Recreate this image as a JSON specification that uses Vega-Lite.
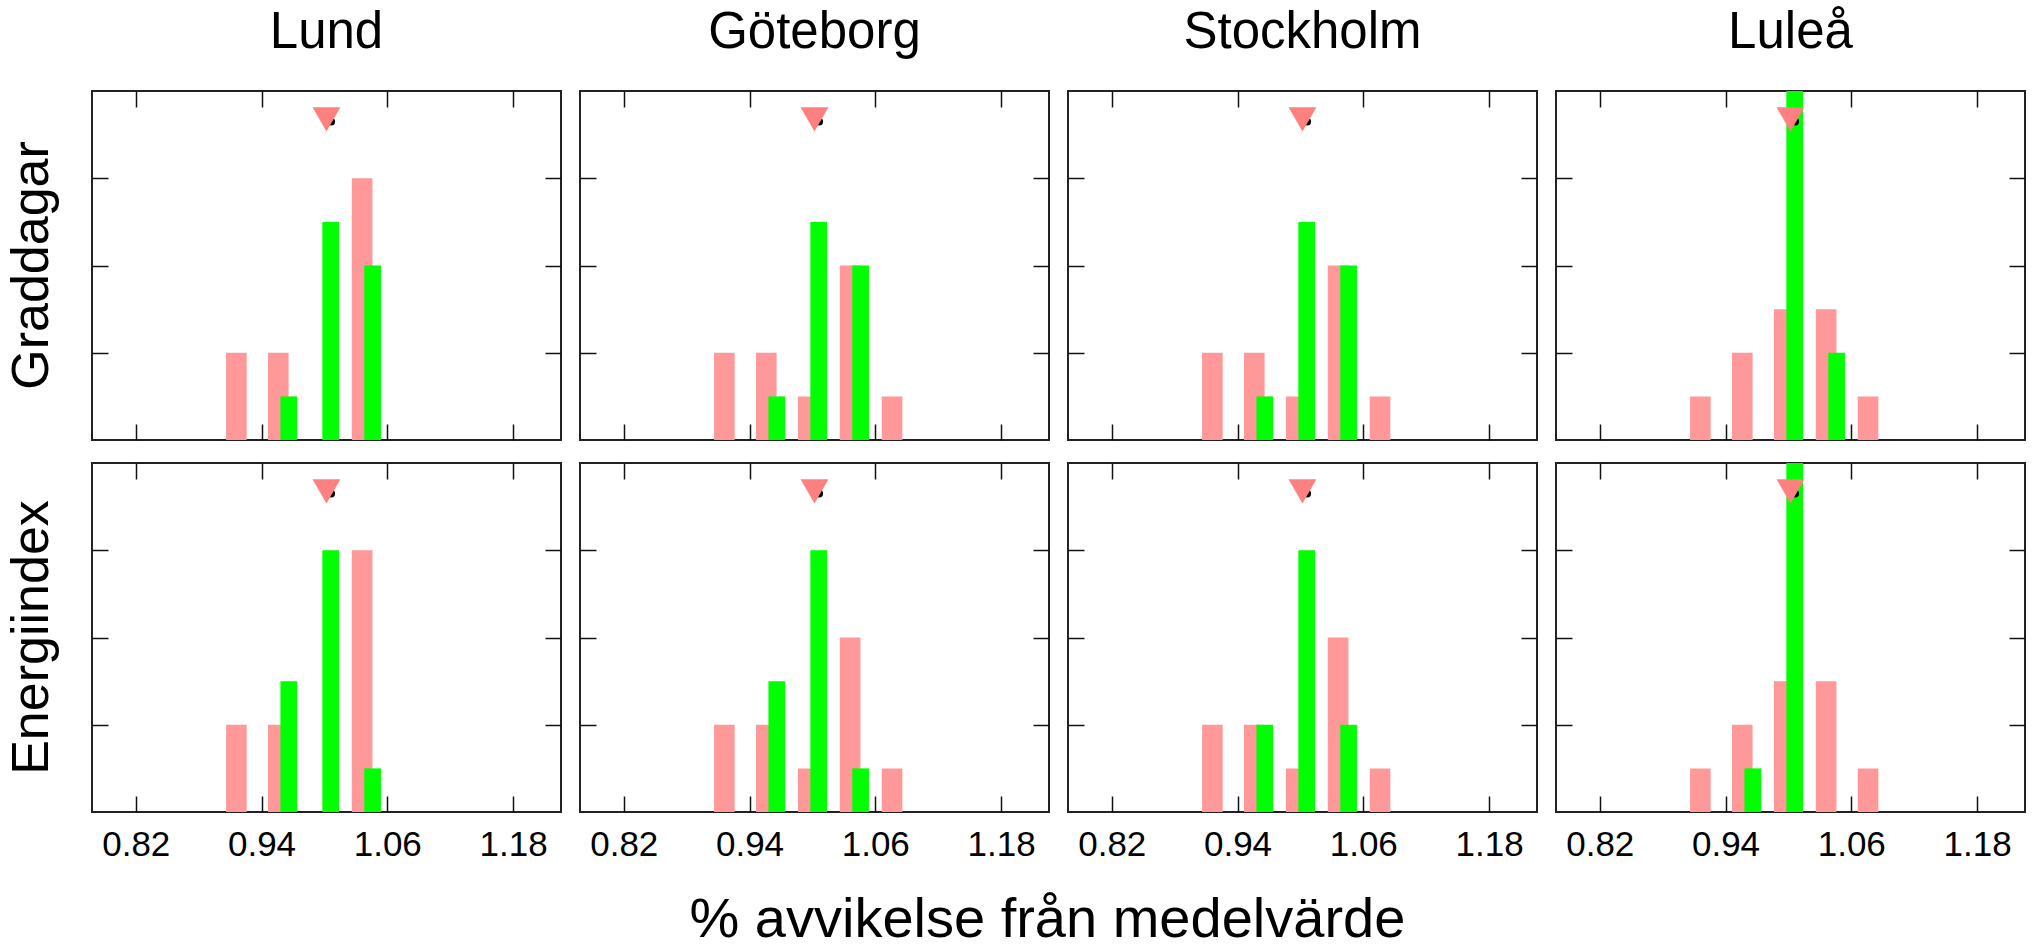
{
  "$schema": "https://vega.github.io/schema/vega-lite/v6.json",
  "background": "white",
  "padding": {"left": 5, "top": 7, "right": 5, "bottom": 2},
  "config": {
    "font": "Liberation Sans",
    "view": {"stroke": "#222222", "strokeWidth": 2},
    "axis": {"domain": false, "grid": false, "ticks": true, "tickSize": -16, "tickColor": "#111111", "tickWidth": 1.5, "labelFont": "Liberation Sans", "labelFontSize": 35, "labelColor": "#000000", "labelPadding": 31, "minExtent": 0},
    "header": {"labelFont": "Liberation Sans", "labelColor": "#000000"}
  },
  "title": {"text": "% avvikelse från medelvärde", "orient": "bottom", "anchor": "middle", "fontSize": 56, "fontWeight": "normal", "font": "Liberation Sans", "color": "#000000", "offset": 30, "dx": 31},
  "data": {"values": [
    {"stad": "Lund", "matt": "Graddagar", "typ": "A", "v": 0.916, "n": 2},
    {"stad": "Lund", "matt": "Graddagar", "typ": "A", "v": 0.956, "n": 2},
    {"stad": "Lund", "matt": "Graddagar", "typ": "A", "v": 1.036, "n": 6},
    {"stad": "Lund", "matt": "Graddagar", "typ": "B", "v": 0.966, "n": 1},
    {"stad": "Lund", "matt": "Graddagar", "typ": "B", "v": 1.006, "n": 5},
    {"stad": "Lund", "matt": "Graddagar", "typ": "B", "v": 1.046, "n": 4},
    {"stad": "Lund", "matt": "Graddagar", "typ": "punkt", "v": 1.0065, "n": 7.3},
    {"stad": "Lund", "matt": "Graddagar", "typ": "medel", "v": 1.002, "n": 7.35},

    {"stad": "Göteborg", "matt": "Graddagar", "typ": "A", "v": 0.916, "n": 2},
    {"stad": "Göteborg", "matt": "Graddagar", "typ": "A", "v": 0.956, "n": 2},
    {"stad": "Göteborg", "matt": "Graddagar", "typ": "A", "v": 0.996, "n": 1},
    {"stad": "Göteborg", "matt": "Graddagar", "typ": "A", "v": 1.036, "n": 4},
    {"stad": "Göteborg", "matt": "Graddagar", "typ": "A", "v": 1.076, "n": 1},
    {"stad": "Göteborg", "matt": "Graddagar", "typ": "B", "v": 0.966, "n": 1},
    {"stad": "Göteborg", "matt": "Graddagar", "typ": "B", "v": 1.006, "n": 5},
    {"stad": "Göteborg", "matt": "Graddagar", "typ": "B", "v": 1.046, "n": 4},
    {"stad": "Göteborg", "matt": "Graddagar", "typ": "punkt", "v": 1.0065, "n": 7.3},
    {"stad": "Göteborg", "matt": "Graddagar", "typ": "medel", "v": 1.002, "n": 7.35},

    {"stad": "Stockholm", "matt": "Graddagar", "typ": "A", "v": 0.916, "n": 2},
    {"stad": "Stockholm", "matt": "Graddagar", "typ": "A", "v": 0.956, "n": 2},
    {"stad": "Stockholm", "matt": "Graddagar", "typ": "A", "v": 0.996, "n": 1},
    {"stad": "Stockholm", "matt": "Graddagar", "typ": "A", "v": 1.036, "n": 4},
    {"stad": "Stockholm", "matt": "Graddagar", "typ": "A", "v": 1.076, "n": 1},
    {"stad": "Stockholm", "matt": "Graddagar", "typ": "B", "v": 0.966, "n": 1},
    {"stad": "Stockholm", "matt": "Graddagar", "typ": "B", "v": 1.006, "n": 5},
    {"stad": "Stockholm", "matt": "Graddagar", "typ": "B", "v": 1.046, "n": 4},
    {"stad": "Stockholm", "matt": "Graddagar", "typ": "punkt", "v": 1.0065, "n": 7.3},
    {"stad": "Stockholm", "matt": "Graddagar", "typ": "medel", "v": 1.002, "n": 7.35},

    {"stad": "Luleå", "matt": "Graddagar", "typ": "A", "v": 0.916, "n": 1},
    {"stad": "Luleå", "matt": "Graddagar", "typ": "A", "v": 0.956, "n": 2},
    {"stad": "Luleå", "matt": "Graddagar", "typ": "A", "v": 0.996, "n": 3},
    {"stad": "Luleå", "matt": "Graddagar", "typ": "A", "v": 1.036, "n": 3},
    {"stad": "Luleå", "matt": "Graddagar", "typ": "A", "v": 1.076, "n": 1},
    {"stad": "Luleå", "matt": "Graddagar", "typ": "B", "v": 1.006, "n": 8},
    {"stad": "Luleå", "matt": "Graddagar", "typ": "B", "v": 1.046, "n": 2},
    {"stad": "Luleå", "matt": "Graddagar", "typ": "punkt", "v": 1.0065, "n": 7.3},
    {"stad": "Luleå", "matt": "Graddagar", "typ": "medel", "v": 1.002, "n": 7.35},

    {"stad": "Lund", "matt": "Energiindex", "typ": "A", "v": 0.916, "n": 2},
    {"stad": "Lund", "matt": "Energiindex", "typ": "A", "v": 0.956, "n": 2},
    {"stad": "Lund", "matt": "Energiindex", "typ": "A", "v": 1.036, "n": 6},
    {"stad": "Lund", "matt": "Energiindex", "typ": "B", "v": 0.966, "n": 3},
    {"stad": "Lund", "matt": "Energiindex", "typ": "B", "v": 1.006, "n": 6},
    {"stad": "Lund", "matt": "Energiindex", "typ": "B", "v": 1.046, "n": 1},
    {"stad": "Lund", "matt": "Energiindex", "typ": "punkt", "v": 1.0065, "n": 7.3},
    {"stad": "Lund", "matt": "Energiindex", "typ": "medel", "v": 1.002, "n": 7.35},

    {"stad": "Göteborg", "matt": "Energiindex", "typ": "A", "v": 0.916, "n": 2},
    {"stad": "Göteborg", "matt": "Energiindex", "typ": "A", "v": 0.956, "n": 2},
    {"stad": "Göteborg", "matt": "Energiindex", "typ": "A", "v": 0.996, "n": 1},
    {"stad": "Göteborg", "matt": "Energiindex", "typ": "A", "v": 1.036, "n": 4},
    {"stad": "Göteborg", "matt": "Energiindex", "typ": "A", "v": 1.076, "n": 1},
    {"stad": "Göteborg", "matt": "Energiindex", "typ": "B", "v": 0.966, "n": 3},
    {"stad": "Göteborg", "matt": "Energiindex", "typ": "B", "v": 1.006, "n": 6},
    {"stad": "Göteborg", "matt": "Energiindex", "typ": "B", "v": 1.046, "n": 1},
    {"stad": "Göteborg", "matt": "Energiindex", "typ": "punkt", "v": 1.0065, "n": 7.3},
    {"stad": "Göteborg", "matt": "Energiindex", "typ": "medel", "v": 1.002, "n": 7.35},

    {"stad": "Stockholm", "matt": "Energiindex", "typ": "A", "v": 0.916, "n": 2},
    {"stad": "Stockholm", "matt": "Energiindex", "typ": "A", "v": 0.956, "n": 2},
    {"stad": "Stockholm", "matt": "Energiindex", "typ": "A", "v": 0.996, "n": 1},
    {"stad": "Stockholm", "matt": "Energiindex", "typ": "A", "v": 1.036, "n": 4},
    {"stad": "Stockholm", "matt": "Energiindex", "typ": "A", "v": 1.076, "n": 1},
    {"stad": "Stockholm", "matt": "Energiindex", "typ": "B", "v": 0.966, "n": 2},
    {"stad": "Stockholm", "matt": "Energiindex", "typ": "B", "v": 1.006, "n": 6},
    {"stad": "Stockholm", "matt": "Energiindex", "typ": "B", "v": 1.046, "n": 2},
    {"stad": "Stockholm", "matt": "Energiindex", "typ": "punkt", "v": 1.0065, "n": 7.3},
    {"stad": "Stockholm", "matt": "Energiindex", "typ": "medel", "v": 1.002, "n": 7.35},

    {"stad": "Luleå", "matt": "Energiindex", "typ": "A", "v": 0.916, "n": 1},
    {"stad": "Luleå", "matt": "Energiindex", "typ": "A", "v": 0.956, "n": 2},
    {"stad": "Luleå", "matt": "Energiindex", "typ": "A", "v": 0.996, "n": 3},
    {"stad": "Luleå", "matt": "Energiindex", "typ": "A", "v": 1.036, "n": 3},
    {"stad": "Luleå", "matt": "Energiindex", "typ": "A", "v": 1.076, "n": 1},
    {"stad": "Luleå", "matt": "Energiindex", "typ": "B", "v": 0.966, "n": 1},
    {"stad": "Luleå", "matt": "Energiindex", "typ": "B", "v": 1.006, "n": 9},
    {"stad": "Luleå", "matt": "Energiindex", "typ": "punkt", "v": 1.0065, "n": 7.3},
    {"stad": "Luleå", "matt": "Energiindex", "typ": "medel", "v": 1.002, "n": 7.35}
  ]},
  "spacing": 19,
  "vconcat": [
    {
      "transform": [{"filter": "datum.matt === 'Graddagar'"}],
      "facet": {
        "row": {"field": "matt", "type": "nominal", "header": {"title": null, "labelAngle": -90, "labelOrient": "left", "labelFontSize": 52, "labelPadding": 6}},
        "column": {"field": "stad", "type": "nominal", "sort": ["Lund", "Göteborg", "Stockholm", "Luleå"], "header": {"title": null, "labelFontSize": 51, "labelPadding": 30}}
      },
      "spacing": {"column": 15, "row": 0},
      "resolve": {"axis": {"x": "independent", "y": "independent"}},
      "spec": {
        "width": 469,
        "height": 349,
        "layer": [
          {
            "transform": [{"filter": "datum.typ === 'A'"}],
            "mark": {"type": "bar", "size": 20.6, "color": "#FF9999", "clip": true},
            "encoding": {
              "x": {"field": "v", "type": "quantitative", "scale": {"domain": [0.783, 1.221], "nice": false, "zero": false}, "axis": {"orient": "bottom", "values": [0.82, 0.94, 1.06, 1.18], "format": ".2f", "labels": false, "title": null}},
              "y": {"field": "n", "type": "quantitative", "scale": {"domain": [0, 8], "nice": false}, "axis": {"orient": "left", "values": [2, 4, 6], "labels": false, "title": null}}
            }
          },
          {
            "transform": [{"filter": "datum.typ === 'B'"}],
            "mark": {"type": "bar", "size": 16.7, "color": "#00FF00", "clip": true},
            "encoding": {
              "x": {"field": "v", "type": "quantitative", "axis": {"orient": "top", "values": [0.82, 0.94, 1.06, 1.18], "labels": false, "title": null}},
              "y": {"field": "n", "type": "quantitative", "axis": {"orient": "right", "values": [2, 4, 6], "labels": false, "title": null}}
            }
          },
          {
            "transform": [{"filter": "datum.typ === 'punkt'"}],
            "mark": {"type": "point", "shape": "circle", "filled": true, "color": "#000000", "opacity": 1, "size": 60},
            "encoding": {
              "x": {"field": "v", "type": "quantitative", "axis": null},
              "y": {"field": "n", "type": "quantitative", "axis": null}
            }
          },
          {
            "transform": [{"filter": "datum.typ === 'medel'"}],
            "mark": {"type": "point", "shape": "triangle-down", "filled": true, "color": "#FF8080", "opacity": 1, "size": 780},
            "encoding": {
              "x": {"field": "v", "type": "quantitative", "axis": null},
              "y": {"field": "n", "type": "quantitative", "axis": null}
            }
          }
        ]
      }
    },
    {
      "transform": [{"filter": "datum.matt === 'Energiindex'"}],
      "facet": {
        "row": {"field": "matt", "type": "nominal", "header": {"title": null, "labelAngle": -90, "labelOrient": "left", "labelFontSize": 52, "labelPadding": 6}},
        "column": {"field": "stad", "type": "nominal", "sort": ["Lund", "Göteborg", "Stockholm", "Luleå"], "header": {"title": null, "labels": false}}
      },
      "spacing": {"column": 15, "row": 0},
      "resolve": {"axis": {"x": "independent", "y": "independent"}},
      "spec": {
        "width": 469,
        "height": 349,
        "layer": [
          {
            "transform": [{"filter": "datum.typ === 'A'"}],
            "mark": {"type": "bar", "size": 20.6, "color": "#FF9999", "clip": true},
            "encoding": {
              "x": {"field": "v", "type": "quantitative", "scale": {"domain": [0.783, 1.221], "nice": false, "zero": false}, "axis": {"orient": "bottom", "values": [0.82, 0.94, 1.06, 1.18], "format": ".2f", "labels": true, "title": null}},
              "y": {"field": "n", "type": "quantitative", "scale": {"domain": [0, 8], "nice": false}, "axis": {"orient": "left", "values": [2, 4, 6], "labels": false, "title": null}}
            }
          },
          {
            "transform": [{"filter": "datum.typ === 'B'"}],
            "mark": {"type": "bar", "size": 16.7, "color": "#00FF00", "clip": true},
            "encoding": {
              "x": {"field": "v", "type": "quantitative", "axis": {"orient": "top", "values": [0.82, 0.94, 1.06, 1.18], "labels": false, "title": null}},
              "y": {"field": "n", "type": "quantitative", "axis": {"orient": "right", "values": [2, 4, 6], "labels": false, "title": null}}
            }
          },
          {
            "transform": [{"filter": "datum.typ === 'punkt'"}],
            "mark": {"type": "point", "shape": "circle", "filled": true, "color": "#000000", "opacity": 1, "size": 60},
            "encoding": {
              "x": {"field": "v", "type": "quantitative", "axis": null},
              "y": {"field": "n", "type": "quantitative", "axis": null}
            }
          },
          {
            "transform": [{"filter": "datum.typ === 'medel'"}],
            "mark": {"type": "point", "shape": "triangle-down", "filled": true, "color": "#FF8080", "opacity": 1, "size": 780},
            "encoding": {
              "x": {"field": "v", "type": "quantitative", "axis": null},
              "y": {"field": "n", "type": "quantitative", "axis": null}
            }
          }
        ]
      }
    }
  ]
}
